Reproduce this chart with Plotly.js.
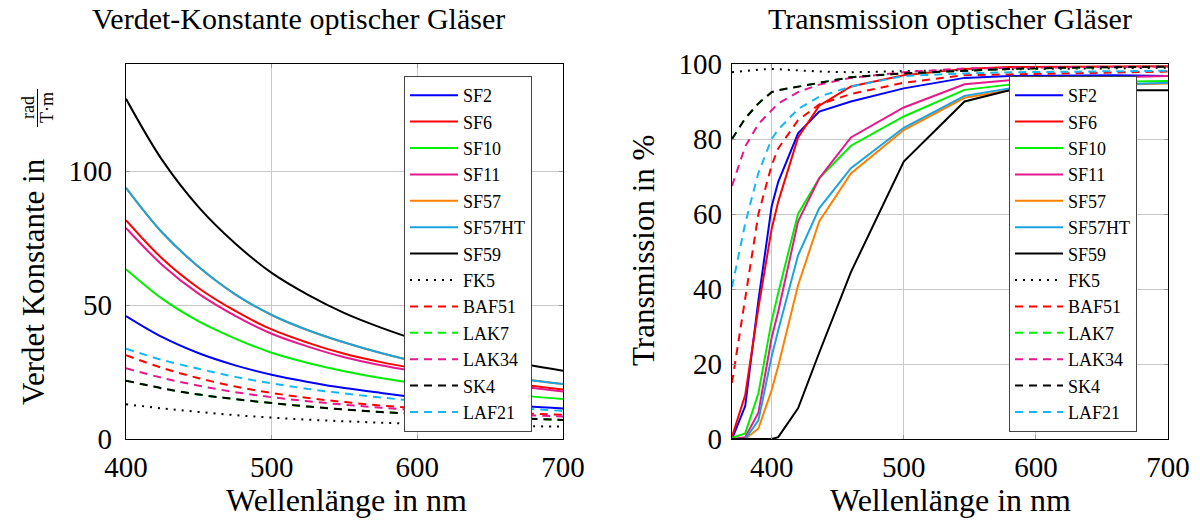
<!DOCTYPE html>
<html><head><meta charset="utf-8">
<script src="https://cdn.plot.ly/plotly-3.0.1.min.js"></script>
<style>html,body{margin:0;padding:0;background:#fff}#chart{width:1200px;height:522px}</style>
</head><body><div id="chart"></div>
<script>
// ---- data ----
const glassNames = ["SF2","SF6","SF10","SF11","SF57","SF57HT","SF59","FK5","BAF51","LAK7","LAK34","SK4","LAF21"];

// Verdet constant (rad/(T·m)) vs wavelength (nm)
const verdetWavelength = [400,425,450,475,500,525,550,575,600,625,650,675,700];
const verdetSF2    = [45.9,38,32,27.5,24,21.3,19,17.2,15.6,14.3,13.2,12.2,11.4];
const verdetSF6    = [81.7,67.3,56.3,47.8,40.9,35.9,31.8,28.7,26.2,23.9,21.9,20.1,18.5];
const verdetSF10   = [63.4,52.3,43.9,37.5,32.2,28.4,25.3,22.8,20.7,19,17.5,16.1,14.9];
const verdetSF11   = [78.8,64.9,54.2,46,39.3,34.5,30.5,27.5,25.1,22.9,21,19.3,17.7];
const verdetSF57   = [93.8,77,64.2,54,46.3,40.6,36,32.1,28.8,26.2,24,22.1,20.5];
const verdetSF57HT = [93.8,77,64.2,54,46.3,40.6,36,32.1,28.8,26.2,24,22.1,20.5];
const verdetSF59   = [127,104,86.5,73,62,53.8,47,41.6,37,33.5,30.5,27.8,25.5];
const verdetFK5    = [13,11.4,10.1,8.9,8,7.2,6.6,6.1,5.6,5.3,5,4.8,4.6];
const verdetBAF51  = [31.3,26.5,22.7,19.6,17.2,15.3,13.8,12.5,11.5,10.7,10,9.5,9];
const verdetLAK7   = [21.8,18.9,16.6,14.9,13.4,12.1,11,10.1,9.3,8.7,8.1,7.6,7.1];
const verdetLAK34  = [26.4,22.8,19.9,17.5,15.6,14.1,12.8,11.7,10.8,10.1,9.5,8.9,8.4];
const verdetSK4    = [21.8,18.9,16.6,14.9,13.4,12.1,11,10.1,9.3,8.7,8.1,7.6,7.1];
const verdetLAF21  = [33.7,29.5,26.2,23.2,20.8,18.7,17,15.5,14.2,13.1,12.2,11.3,10.5];

// Transmission (%) vs wavelength (nm)
const transWavelength = [370,380,390,400,405,420,436,460,500,546,580,620,660,700];
const transSF2    = [0,8.8,37,62,68.6,81.5,87.3,90,93.5,96.3,96.8,97,97,96.8];
const transSF6    = [0.6,11.7,35,56,63.3,80.4,88.9,94,97,98.7,99.2,99.3,99.4,99.4];
const transSF10   = [0.3,1.5,12.2,31.5,39,60,69.5,78.2,86,93.1,94.5,95,95.3,95.5];
const transSF11   = [0,0.5,7,27,34,58,69.5,80.4,88.4,94.6,95.7,96.3,96.5,96.8];
const transSF57   = [0,0,2.8,13,19.5,41,58,70.8,82.4,91,93,94,94.5,94.8];
const transSF57HT = [0,0,5,22,29,49,61.5,72.2,83,91.5,93.5,94,94.5,95];
const transSF59   = [0,0,0,0,0.5,8.2,23,44.5,74,90,93,93,93,93];
const transFK5    = [97.8,98.2,98.5,98.7,98.6,98.3,98,97.8,98,98.4,98.6,98.8,98.9,99];
const transBAF51  = [15,37,60,73,77.5,85,89.2,92,95,97,97.2,97.5,97.8,98];
const transLAK7   = [80,85.5,89.5,92.5,93,94,95,96.5,97.5,98.3,98.7,99,99.2,99.3];
const transLAK34  = [67.5,78,84,87.5,89.5,92.5,94.5,96.3,97.8,98.8,99,99.2,99.3,99.3];
const transSK4    = [80,85.5,89.5,92.5,93,94,95,96.5,97.5,98.3,98.7,99,99.2,99.3];
const transLAF21  = [40.5,57.5,71,80,82.5,88,91.3,94,96.8,97.5,97.8,98,98,98.2];

const verdetTicks = [0,50,100];
const transXTicks = [400,500,600,700];
const transYTicks = [0,20,40,60,80,100];

// ---- styles ----
const verdetSeries = [verdetSF2,verdetSF6,verdetSF10,verdetSF11,verdetSF57,verdetSF57HT,verdetSF59,verdetFK5,verdetBAF51,verdetLAK7,verdetLAK34,verdetSK4,verdetLAF21];
const transSeries = [transSF2,transSF6,transSF10,transSF11,transSF57,transSF57HT,transSF59,transFK5,transBAF51,transLAK7,transLAK34,transSK4,transLAF21];
const colors = ["#0000ff","#ff0000","#00ee00","#e6198c","#ff8000","#1ba3e0","#000000","#000000","#ff0000","#00ee00","#e6198c","#000000","#12b8f5"];
const dashes = ["solid","solid","solid","solid","solid","solid","solid","2px,6px","8px,6px","8px,6px","8px,6px","8px,6px","8px,6px"];

const FONT = "Liberation Serif, Times New Roman, serif";
const traces = [];
glassNames.forEach((n,i)=>{
  traces.push({type:"scatter",mode:"lines",name:n,x:verdetWavelength,y:verdetSeries[i],xaxis:"x",yaxis:"y",legend:"legend",
    line:{color:colors[i],width:2,dash:dashes[i],shape:"spline",smoothing:1},hoverinfo:"x+y+name"});
});
glassNames.forEach((n,i)=>{
  traces.push({type:"scatter",mode:"lines",name:n,x:transWavelength,y:transSeries[i],xaxis:"x2",yaxis:"y2",legend:"legend2",
    line:{color:colors[i],width:2,dash:dashes[i]},hoverinfo:"x+y+name"});
});

const axisCommon = {showline:true,mirror:"ticks",linecolor:"#000",linewidth:1.2,showgrid:true,gridcolor:"#c8c8c8",gridwidth:1,
  ticks:"inside",ticklen:4,tickcolor:"#999",zeroline:false,tickfont:{family:FONT,size:29,color:"#000"}};
const yDom = [83/522, 458/522];
const legendCommon = {bgcolor:"#fff",bordercolor:"#444",borderwidth:1,font:{family:FONT,size:18,color:"#000"},
  xanchor:"left",yanchor:"top",itemwidth:48,tracegroupgap:0,traceorder:"normal"};

const P = (px)=>px/1200, Q=(py)=>1-py/522;
const ann = (x,y,text,size,angle)=>({xref:"paper",yref:"paper",x:P(x),y:Q(y),text:text,showarrow:false,
  xanchor:"center",yanchor:"middle",textangle:angle||0,font:{family:FONT,size:size,color:"#000"}});

const layout = {
  width:1200,height:522,margin:{l:0,r:0,t:0,b:0},paper_bgcolor:"#fff",plot_bgcolor:"#fff",showlegend:true,
  xaxis:Object.assign({},axisCommon,{domain:[126/1200,563/1200],range:[400,700],tickvals:transXTicks,anchor:"y",ticklabelstandoff:2}),
  yaxis:Object.assign({},axisCommon,{domain:yDom,range:[0,140],tickvals:verdetTicks,anchor:"x",ticklabelstandoff:7}),
  xaxis2:Object.assign({},axisCommon,{domain:[732/1200,1168/1200],range:[370,700],tickvals:transXTicks,anchor:"y2",ticklabelstandoff:2}),
  yaxis2:Object.assign({},axisCommon,{domain:yDom,range:[0,100],tickvals:transYTicks,anchor:"x2",ticklabelstandoff:3}),
  legend:Object.assign({},legendCommon,{x:P(404),y:Q(76)}),
  legend2:Object.assign({},legendCommon,{x:P(1009),y:Q(76)}),
  annotations:[
    ann(298,19,"Verdet-Konstante optischer Gläser",30),
    ann(950,19,"Transmission optischer Gläser",30),
    ann(346,500,"Wellenlänge in nm",32),
    ann(950,500,"Wellenlänge in nm",32),
    ann(33,282,"Verdet Konstante in",31,-90),
    ann(28,108,"rad",18,-90),
    ann(47,108,"T·m",18,-90),
    ann(643,251,"Transmission in %",31,-90)
  ],
  shapes:[{type:"line",xref:"paper",yref:"paper",x0:P(37.5),x1:P(37.5),y0:Q(89),y1:Q(127),line:{color:"#000",width:1}}]
};
Plotly.newPlot("chart",traces,layout,{staticPlot:true,displayModeBar:false});
</script></body></html>
